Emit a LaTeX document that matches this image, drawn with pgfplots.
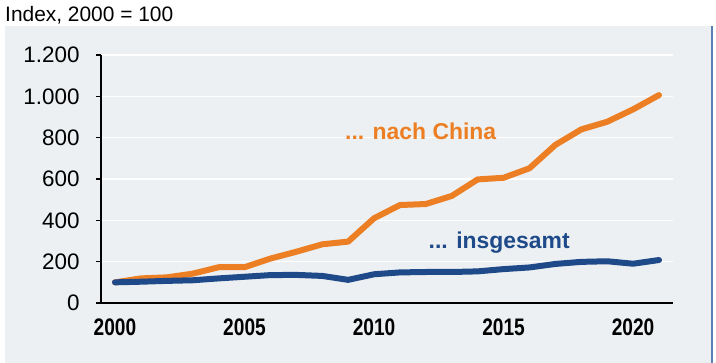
\documentclass[border=0pt]{standalone}
\usepackage{pgfplots}
\pgfplotsset{compat=1.18}
\usepackage{fontspec}
\setmainfont{Liberation Sans}
\newfontfamily\narrowfont[FakeStretch=0.8]{Liberation Sans}
\definecolor{panel}{HTML}{EDF0F2}
\definecolor{borderblue}{HTML}{5A7FB2}
\definecolor{cnorange}{HTML}{EC7E24}
\definecolor{navy}{HTML}{1F4A8A}
\pgfplotstableread{
year china total
2000 100 100
2001 119 103
2002 124 107
2003 142 110
2004 173 119
2005 173 127
2006 215 135
2007 248 136
2008 284 131
2009 297 112
2010 410 139
2011 474 148
2012 479 150
2013 518 150
2014 598 153
2015 606 164
2016 652 172
2017 765 189
2018 840 199
2019 877 202
2020 937 190
2021 1006 208
}\datatable
\begin{document}
\begin{tikzpicture}
\path[use as bounding box] (0bp,0bp) rectangle (716bp,363bp);
\fill[panel] (5bp,0bp) rectangle (712bp,337bp);
\draw[borderblue,line width=1.2bp] (712bp,0bp) -- (712bp,337bp);
\node[anchor=base west,inner sep=0pt,font=\fontsize{21}{24}\selectfont] at (5bp,341bp) {Index, 2000 = 100};
\begin{axis}[
  at={(101bp,60bp)}, anchor=south west,
  scale only axis, width=572bp, height=248bp,
  xmin=1999.46, xmax=2021.54, ymin=0, ymax=1200,
  axis lines=left, axis line style={black,line width=1.8bp,-},
  axis x line*=bottom, axis y line*=left,
  ytick={0,200,...,1200},
  xtick={2000,2005,...,2020},
  major tick length=5bp,
  tick style={black,line width=1.5bp},
  xtick style={draw=none},
  ytick align=outside,
  grid=major, xmajorgrids=false,
  major grid style={white,line width=1.5bp},
  yticklabel style={font=\fontsize{22.5}{24}\selectfont, xshift=-13bp},
  xticklabel style={font=\fontsize{24}{26}\selectfont\narrowfont\bfseries, yshift=-10bp},
  /pgf/number format/assume math mode=true,
  /pgf/number format/1000 sep={.},
  xticklabel={\pgfmathprintnumber[1000 sep={}]{\tick}},
  clip=false,
]
\addplot[cnorange, line width=6bp, line join=round, line cap=round] table[x=year,y=china] {\datatable};
\addplot[navy, line width=6bp, line join=round, line cap=round] table[x=year,y=total] {\datatable};
\node[cnorange, font=\fontsize{23}{26}\selectfont\bfseries, anchor=base] at (axis cs:2011.8,789) {... nach China};
\node[navy, font=\fontsize{23}{26}\selectfont\bfseries, anchor=base] at (axis cs:2014.83,266) {... insgesamt};
\end{axis}
\end{tikzpicture}
\end{document}
